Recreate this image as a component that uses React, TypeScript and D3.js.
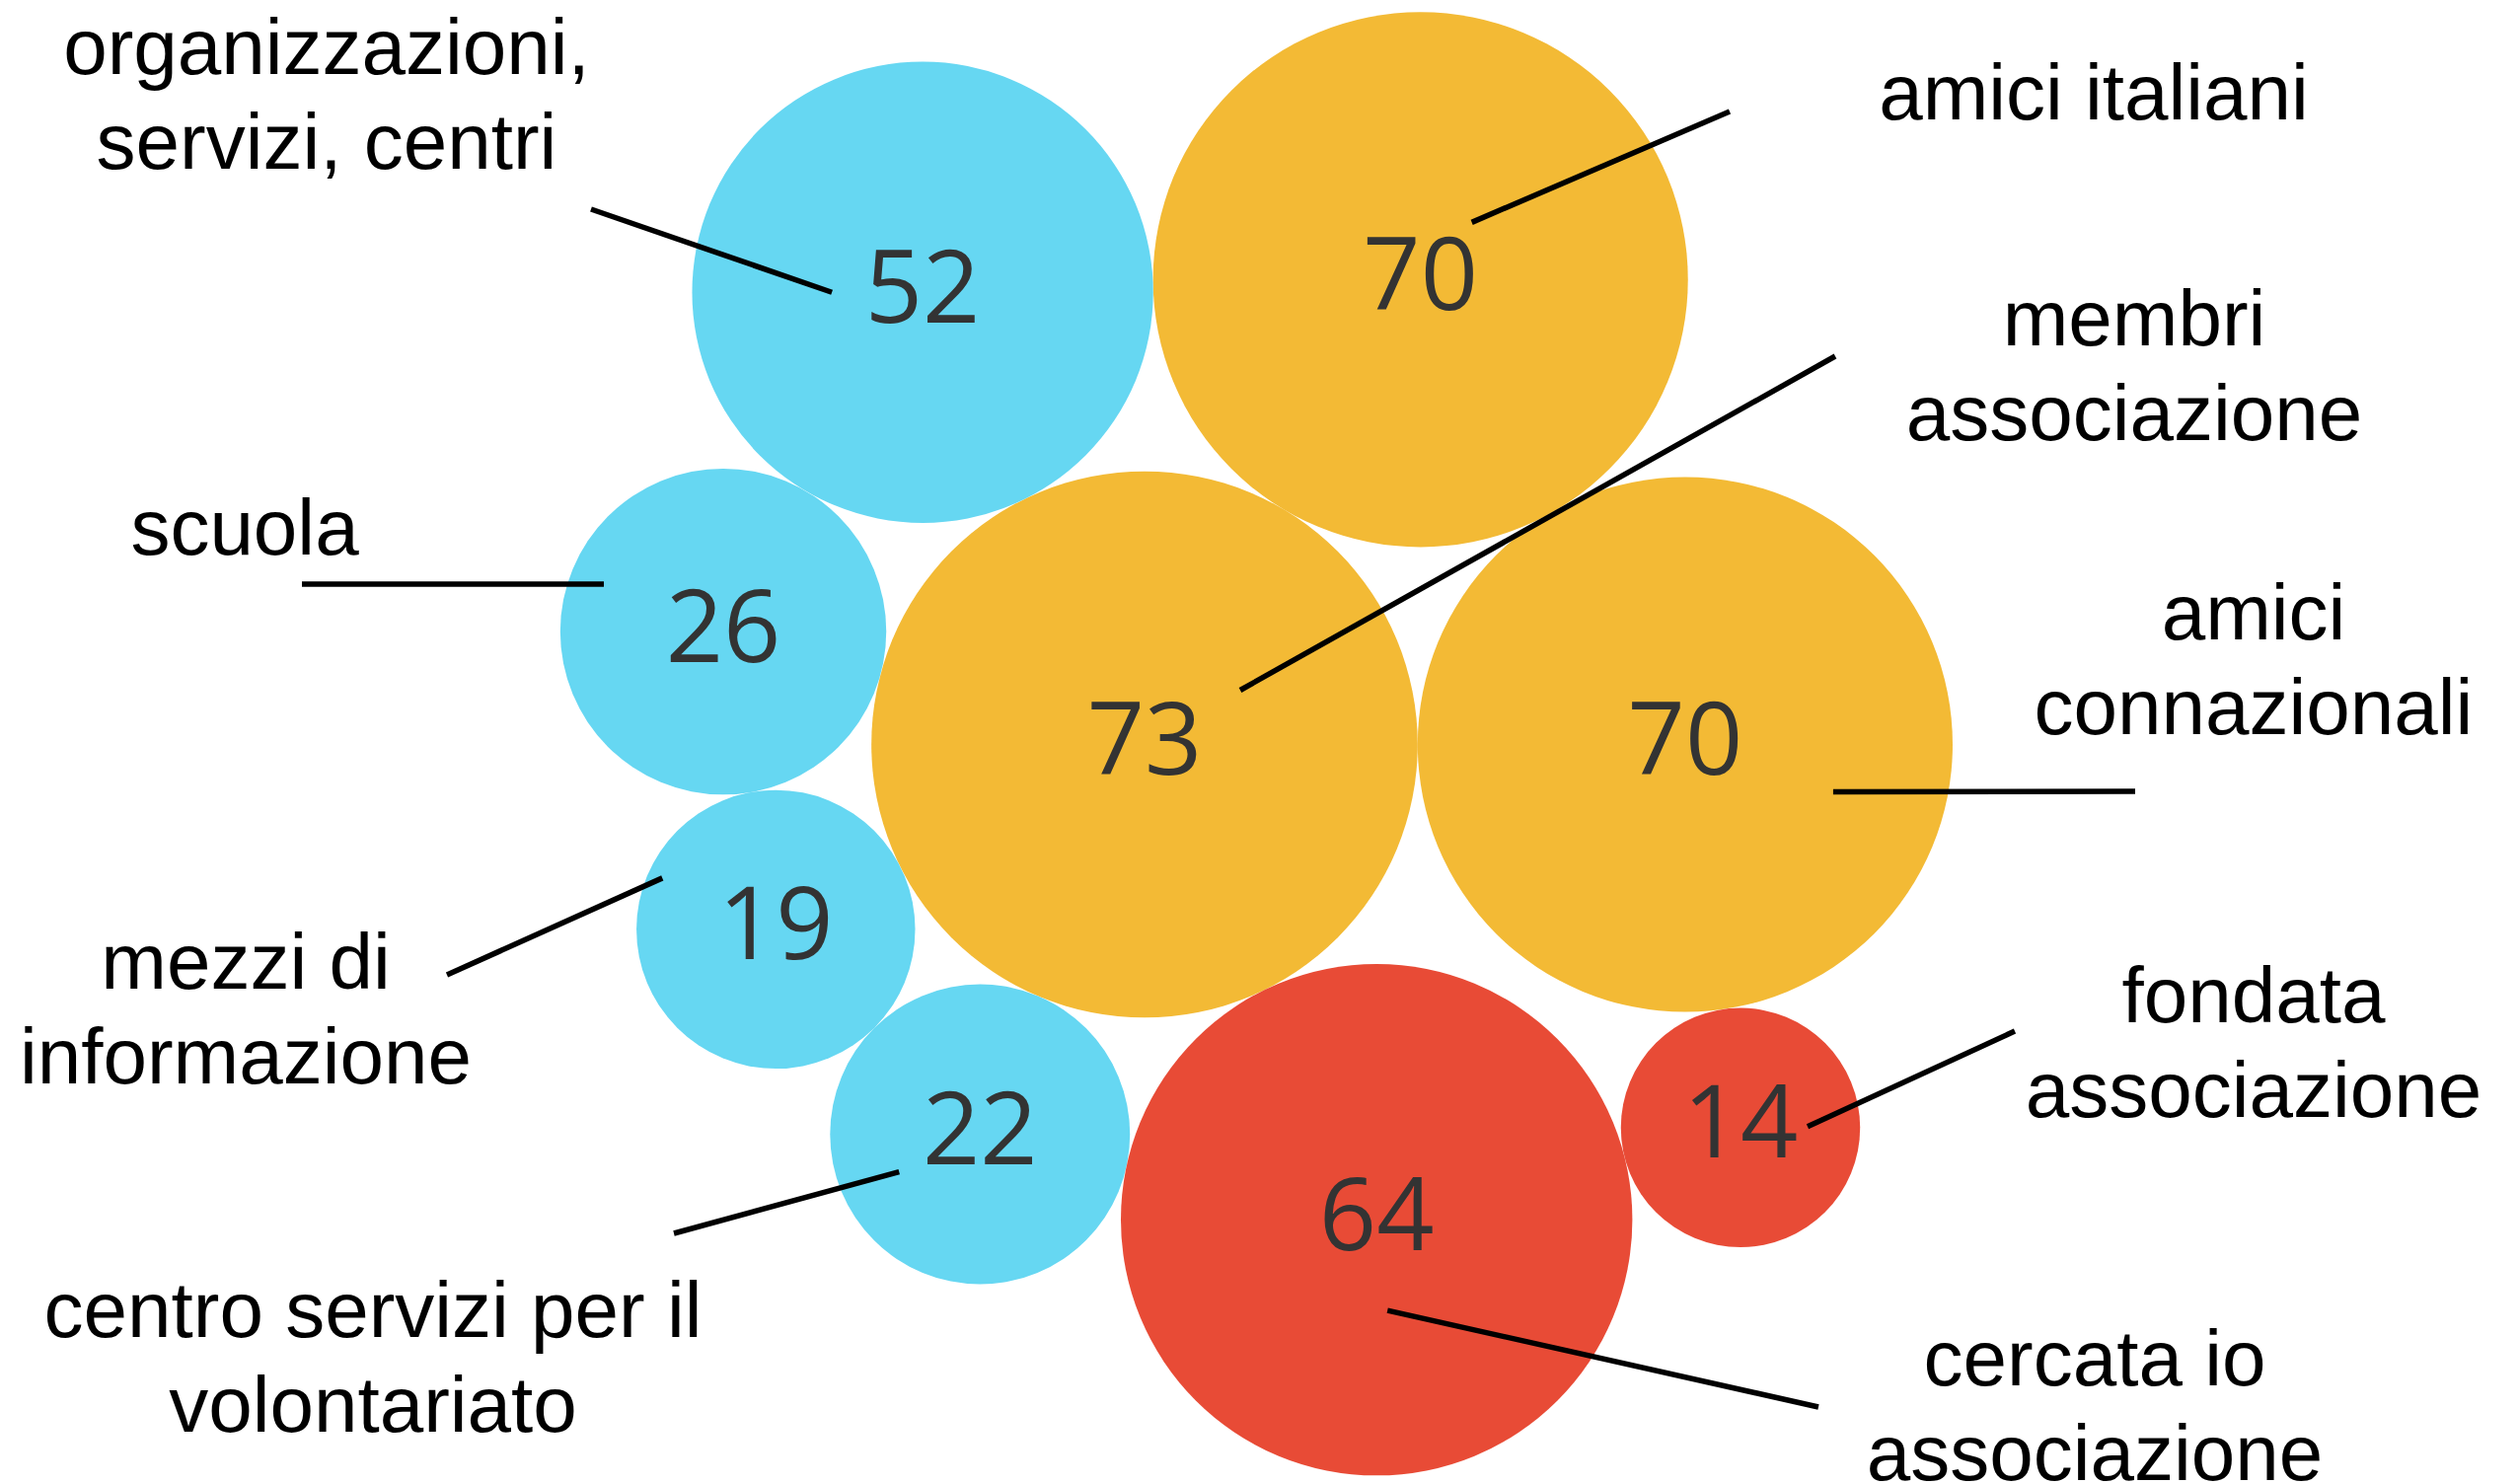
import React from 'react';
import * as d3 from 'd3';

const WIDTH = 2552;
const HEIGHT = 1504;

// one entry per bubble; label lines as in the original
const labels = [
  ['membri', 'associazione'],
  ['amici', 'connazionali'],
  ['amici italiani'],
  ['organizzazioni,', 'servizi, centri'],
  ['scuola'],
  ['mezzi di', 'informazione'],
  ['centro servizi per il', 'volontariato'],
  ['cercata io', 'associazione'],
  ['fondata', 'associazione'],
];
const values = [73, 70, 70, 52, 26, 19, 22, 64, 14];
const groups = ['rete', 'rete', 'rete', 'servizi', 'servizi', 'servizi', 'servizi', 'iniziativa', 'iniziativa'];
const groupNames = ['servizi', 'rete', 'iniziativa'];
const groupColors = ['#66d7f2', '#f3ba35', '#e84b36'];

// layout: each bubble (after the first two) is placed tangent to two earlier ones
const tangentTo: [number, number][] = [[-1, -1], [0, -1], [0, 1], [0, 2], [0, 3], [0, 4], [0, 5], [0, 6], [1, 7]];
const anchor = { x: 1160, y: 754.5 };

// label placement: text centre x, first baseline y, leader line start (offset from bubble centre) and end
const labelPos = [
  { x: 2163, y: 350, from: [97, -55], to: [1860, 361] },
  { x: 2284, y: 648, from: [150, 48], to: [2164, 802] },
  { x: 2122, y: 121, from: [52, -58], to: [1753, 113] },
  { x: 331, y: 75, from: [-92, 0], to: [599, 212] },
  { x: 248, y: 562, from: [-121, -48], to: [306, 592] },
  { x: 249, y: 1002, from: [-115, -52], to: [453, 988] },
  { x: 378, y: 1355, from: [-82, 38], to: [683, 1250] },
  { x: 2123, y: 1404, from: [11, 92], to: [1843, 1426] },
  { x: 2284, y: 1036, from: [68, -1], to: [2042, 1045] },
];
const lineHeight = 96;

type Bubble = { x: number; y: number; r: number; value: number; group: string; label: string[] };

function placeTangent(a: Bubble, b: Bubble, r: number) {
  const dx = b.x - a.x;
  const dy = b.y - a.y;
  const d = Math.hypot(dx, dy);
  const p = a.r + r;
  const q = b.r + r;
  const along = (p * p - q * q + d * d) / (2 * d);
  const h = Math.sqrt(Math.max(0, p * p - along * along));
  const ux = dx / d;
  const uy = dy / d;
  // perpendicular (-uy, ux), taken on the negative side
  return { x: a.x + along * ux + h * uy, y: a.y + along * uy - h * ux };
}

const App: React.FC = () => {
  const rScale = d3.scaleSqrt().domain([0, d3.max(values) as number]).range([0, 32.4 * Math.sqrt(73)]);
  const color = d3.scaleOrdinal<string, string>().domain(groupNames).range(groupColors);

  const bubbles: Bubble[] = [];
  values.forEach((v, i) => {
    const r = rScale(v);
    let pos = { x: anchor.x, y: anchor.y };
    const [ia, ib] = tangentTo[i];
    if (ia >= 0 && ib < 0) {
      const a = bubbles[ia];
      pos = { x: a.x + a.r + r, y: a.y };
    } else if (ia >= 0) {
      pos = placeTangent(bubbles[ia], bubbles[ib], r);
    }
    bubbles.push({ ...pos, r, value: v, group: groups[i], label: labels[i] });
  });

  return (
    <div style={{ position: 'absolute', left: 0, top: 0 }}>
      <svg width={WIDTH} height={HEIGHT} style={{ display: 'block', background: '#fff' }}>
        <g>
          {bubbles.map((b, i) => (
            <circle key={i} cx={b.x} cy={b.y} r={b.r} fill={color(b.group)} />
          ))}
        </g>
        <g fontFamily="'Open Sans', sans-serif" fontSize={102} fontWeight={500} fill="#333" textAnchor="middle">
          {bubbles.map((b, i) => (
            <text key={i} x={b.x} y={b.y} dy="0.3em">{b.value}</text>
          ))}
        </g>
        <g stroke="#000" strokeWidth={5.5}>
          {bubbles.map((b, i) => {
            const lp = labelPos[i];
            return (
              <line key={i} x1={b.x + lp.from[0]} y1={b.y + lp.from[1]} x2={lp.to[0]} y2={lp.to[1]} />
            );
          })}
        </g>
        <g fontFamily="'Liberation Sans', Arial, sans-serif" fontSize={80} fill="#000" textAnchor="middle">
          {bubbles.map((b, i) => {
            const lp = labelPos[i];
            return (
              <text key={i} x={lp.x} y={lp.y}>
                {b.label.map((t, j) => (
                  <tspan key={j} x={lp.x} y={lp.y + j * lineHeight}>{t}</tspan>
                ))}
              </text>
            );
          })}
        </g>
      </svg>
    </div>
  );
};

export default App;
